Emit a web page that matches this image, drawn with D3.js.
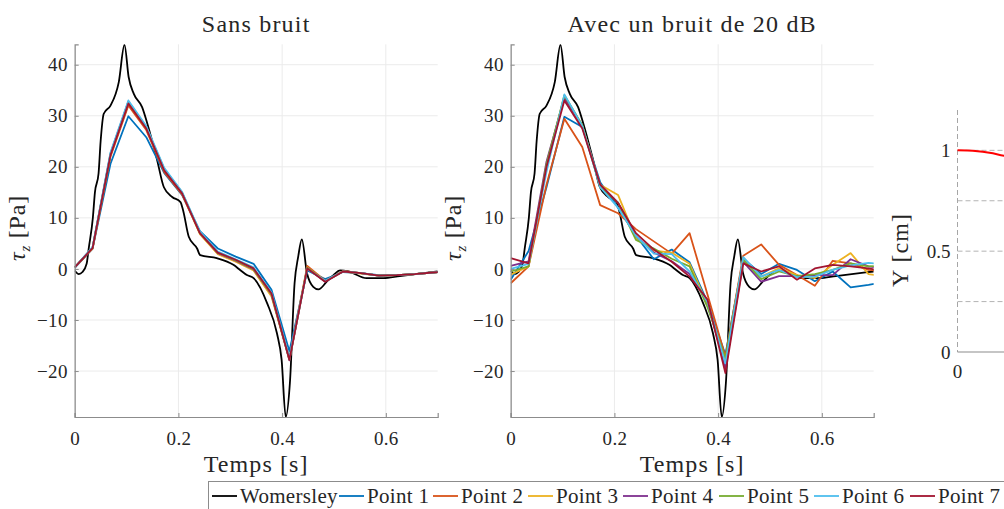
<!DOCTYPE html>
<html>
<head>
<meta charset="utf-8">
<script src="https://cdn.jsdelivr.net/npm/d3@7"></script>
<style>
  html, body { margin: 0; padding: 0; background: #fff; }
  svg { display: block; }
  text { font-family: "Liberation Serif", "DejaVu Serif", serif; fill: #262626; }
</style>
</head>
<body>
<svg id="fig" width="1004" height="509"></svg>
<script>
// Sample times of the estimated points (s)
const sampleTimes = [0, 0.0345, 0.069, 0.1035, 0.138, 0.1725, 0.207, 0.2415, 0.276, 0.3105, 0.345,
  0.3795, 0.414, 0.4485, 0.483, 0.5175, 0.552, 0.5865, 0.621, 0.6555, 0.69, 0.7245];

// Womersley reference wall shear stress
const womT = [0, 0.008, 0.015, 0.023, 0.027, 0.035, 0.039, 0.046, 0.05, 0.056, 0.069, 0.085, 0.096,
  0.104, 0.114, 0.13, 0.14, 0.159, 0.172, 0.188, 0.204, 0.209, 0.22, 0.236, 0.242, 0.274, 0.306,
  0.319, 0.332, 0.345, 0.371, 0.39, 0.399, 0.407, 0.415, 0.424, 0.431, 0.438, 0.448, 0.46, 0.47,
  0.486, 0.499, 0.512, 0.528, 0.563, 0.595, 0.627, 0.7];
const womV = [-0.3, -1.0, -0.6, 1.0, 4.0, 10.0, 15.0, 18.7, 25.0, 30.4, 32.0, 36.6, 43.9,
  37.6, 34.3, 31.7, 28.5, 21.3, 16.0, 14.1, 13.1, 11.5, 6.3, 4.0, 2.7, 2.1, 0.8,
  -0.2, -1.2, -1.8, -6.7, -12.6, -17.8, -29.0, -22.3, -2.8, 2.4, 5.8, -0.85, -3.5, -4.0,
  -2.5, -1.2, -0.3, -0.5, -1.8, -1.8, -1.4, -0.5];

// Estimates without noise
const clean1 = [0.2, 4.0, 20.6, 29.9, 25.8, 18.8, 14.5, 7.4, 4.0, 2.4, 1.0, -4.1, -16.1, -0.3, -2.0, -0.6, -0.8, -1.2, -1.2, -1.0, -0.7, -0.4];
const clean2 = [0.3, 4.0, 22.0, 32.0, 27.2, 19.0, 14.6, 6.9, 3.0, 1.5, -0.2, -5.2, -17.5, 0.6, -2.3, -0.4, -0.8, -1.3, -1.2, -1.0, -0.7, -0.4];
const clean3 = [0.3, 4.1, 22.4, 32.6, 27.6, 19.4, 14.8, 6.8, 2.9, 1.4, -0.3, -5.4, -17.8, 0.3, -2.4, -0.5, -0.9, -1.3, -1.2, -1.0, -0.7, -0.4];
const clean4 = [0.3, 4.2, 22.6, 32.8, 27.7, 19.5, 14.9, 7.0, 3.1, 1.6, -0.1, -5.0, -17.9, 0.2, -2.5, -0.5, -0.8, -1.3, -1.2, -1.0, -0.7, -0.4];
const clean5 = [0.3, 4.2, 22.5, 32.7, 27.8, 19.6, 15.0, 7.1, 3.2, 1.7, 0.0, -4.9, -17.7, 0.2, -2.4, -0.5, -0.8, -1.3, -1.2, -1.0, -0.7, -0.4];
const clean6 = [0.3, 4.3, 22.8, 33.0, 28.0, 19.8, 15.1, 7.3, 3.4, 1.9, 0.3, -4.6, -17.4, 0.0, -2.3, -0.5, -0.8, -1.3, -1.2, -1.0, -0.7, -0.4];
const clean7 = [0.3, 4.1, 22.3, 32.4, 27.5, 19.3, 14.8, 7.0, 3.2, 1.8, 0.1, -4.8, -17.8, 0.1, -2.5, -0.5, -0.8, -1.3, -1.2, -1.0, -0.7, -0.4];

// Estimates with 20 dB noise
const noisy1 = [-2.1, 3.5, 16.0, 29.8, 27.8, 17.0, 12.0, 6.5, 1.9, 3.8, 1.3, -6.5, -16.8, 2.0, -1.0, 1.0, -0.2, -2.4, -0.5, -3.6, -3.1, -2.5];
const noisy2 = [-2.8, 0.5, 16.5, 29.4, 23.9, 12.5, 10.9, 7.8, 5.4, 3.0, 7.0, -5.0, -17.2, 2.6, 4.8, 0.8, -1.2, -3.3, 1.6, 1.1, -0.2, -0.5];
const noisy3 = [-1.1, 0.5, 20.0, 34.0, 28.0, 16.5, 14.5, 6.0, 3.6, 3.2, 1.0, -7.0, -18.0, 2.1, -1.5, 0.1, -1.2, -1.8, 0.8, 3.1, -1.0, -1.5];
const noisy4 = [0.6, 1.5, 21.0, 33.5, 28.0, 16.5, 13.0, 6.5, 3.2, 1.5, -1.0, -6.5, -19.5, 1.4, -2.5, -1.4, -1.4, -1.2, -1.2, 1.9, 0.5, 0.0];
const noisy5 = [-0.5, 0.5, 20.5, 34.0, 28.2, 16.0, 13.0, 5.7, 4.0, 2.0, 0.5, -7.5, -17.5, 1.8, -2.0, -0.5, -1.4, -1.0, -0.2, 1.1, 0.5, 0.7];
const noisy6 = [0.0, 1.0, 19.0, 34.2, 28.0, 16.0, 12.0, 6.5, 3.0, 2.9, -0.5, -6.5, -18.5, 2.3, -1.5, -0.2, -1.6, -1.5, -0.2, 0.7, 1.2, 0.8];
const noisy7 = [2.1, 1.1, 20.0, 33.0, 27.5, 16.5, 12.9, 7.0, 3.8, 1.4, -1.5, -6.0, -20.4, 1.1, -0.5, 0.5, -2.1, 0.1, 0.8, 0.5, 0.1, -0.5];

const seriesNames = ["Womersley", "Point 1", "Point 2", "Point 3", "Point 4", "Point 5", "Point 6", "Point 7"];
const seriesColors = ["#000000", "#0072BD", "#D95319", "#EDB120", "#7E2F8E", "#77AC30", "#4DBEEE", "#A2142F"];

const xTicks = [0, 0.2, 0.4, 0.6];
const yTicks = [-20, -10, 0, 10, 20, 30, 40];

// Vessel wall section (cm)
const wallX = [0, 0.05, 0.1, 0.15, 0.2, 0.25, 0.3, 0.35];
const wallY = [1, 0.9987, 0.995, 0.9887, 0.9798, 0.9682, 0.9539, 0.9367];
const sectionYTicks = [0, 0.5, 1];
const sectionGrid = [0.25, 0.5, 0.75, 1];

const svg = d3.select("#fig");
const axisGrey = "#8c8c8c";
const gridGrey = "#ebebeb";

const yScale = d3.scaleLinear().domain([-29, 44]).range([417, 44.3]);

function panel(x0, title, estimates, clipId) {
  const xScale = d3.scaleLinear().domain([0, 0.7]).range([x0, x0 + 363]);
  const g = svg.append("g");

  g.append("clipPath").attr("id", clipId).append("rect")
    .attr("x", x0).attr("y", 44.3).attr("width", 363).attr("height", 417 - 44.3);

  // grid
  g.selectAll(".gx").data(xTicks).join("line")
    .attr("x1", d => xScale(d)).attr("x2", d => xScale(d))
    .attr("y1", 44.3).attr("y2", 417).attr("stroke", gridGrey).attr("stroke-width", 1);
  g.selectAll(".gy").data(yTicks).join("line")
    .attr("x1", x0).attr("x2", x0 + 363)
    .attr("y1", d => yScale(d)).attr("y2", d => yScale(d)).attr("stroke", gridGrey).attr("stroke-width", 1);

  // curves
  const plot = g.append("g").attr("clip-path", `url(#${clipId})`);
  const womLine = d3.line().x((d, i) => xScale(womT[i])).y(d => yScale(d)).curve(d3.curveMonotoneX);
  plot.append("path").attr("d", womLine(womV)).attr("fill", "none")
    .attr("stroke", seriesColors[0]).attr("stroke-width", 1.8).attr("stroke-linejoin", "round");
  const ptLine = d3.line().x((d, i) => xScale(sampleTimes[i])).y(d => yScale(d));
  estimates.forEach((vals, k) => {
    plot.append("path").attr("d", ptLine(vals)).attr("fill", "none")
      .attr("stroke", seriesColors[k + 1]).attr("stroke-width", 1.8).attr("stroke-linejoin", "round");
  });

  // axes
  const xAxis = d3.axisBottom(xScale).tickValues(xTicks).tickSize(-4).tickPadding(10)
    .tickFormat(d => d === 0 ? "0" : d3.format(".1f")(d));
  const yAxis = d3.axisLeft(yScale).tickValues(yTicks).tickSize(-4).tickPadding(7)
    .tickFormat(d3.format("d"));
  const ax = g.append("g").attr("transform", "translate(0,417)").call(xAxis);
  const ay = g.append("g").attr("transform", `translate(${x0},0)`).call(yAxis);
  [ax, ay].forEach(a => {
    a.select(".domain").attr("stroke", axisGrey).attr("stroke-width", 1.2);
    a.selectAll(".tick line").attr("stroke", axisGrey);
    a.selectAll(".tick text").attr("font-size", 19).style("fill", "#262626")
      .style("font-family", '"Liberation Serif", serif').style("letter-spacing", "0.3px");
  });
  ax.selectAll(".tick text").attr("dy", "0.95em");

  // title and labels
  g.append("text").attr("x", x0 + 181.5).attr("y", 32).attr("text-anchor", "middle")
    .attr("font-size", 24).style("letter-spacing", "1.2px").text(title);
  g.append("text").attr("x", x0 + 181.5).attr("y", 472).attr("text-anchor", "middle")
    .attr("font-size", 24).style("letter-spacing", "1.1px").text("Temps [s]");
  const yl = g.append("text").attr("transform", `translate(${x0 - 50},228) rotate(-90)`)
    .attr("text-anchor", "middle").attr("font-size", 24).style("letter-spacing", "0.8px");
  yl.append("tspan").attr("font-style", "italic").text("τ");
  yl.append("tspan").attr("font-style", "italic").attr("font-size", 15).attr("dy", 5).text("z");
  yl.append("tspan").attr("dy", -5).text(" [Pa]");
}

panel(74.7, "Sans bruit", [clean1, clean2, clean3, clean4, clean5, clean6, clean7], "clipA");
panel(510.7, "Avec un bruit de 20 dB", [noisy1, noisy2, noisy3, noisy4, noisy5, noisy6, noisy7], "clipB");

// Vessel section panel
(function () {
  const x0 = 957.5;
  const sy = d3.scaleLinear().domain([0, 1.2]).range([352, 110]);
  const sx = d3.scaleLinear().domain([0, 1]).range([x0, x0 + 201.7]);
  const g = svg.append("g");
  g.selectAll(".sg").data(sectionGrid).join("line")
    .attr("x1", x0).attr("x2", 1004).attr("y1", d => sy(d)).attr("y2", d => sy(d))
    .attr("stroke", "#b3b3b3").attr("stroke-width", 1).attr("stroke-dasharray", "5,3");
  g.append("line").attr("x1", x0).attr("x2", x0).attr("y1", 110).attr("y2", 352)
    .attr("stroke", "#a6a6a6").attr("stroke-width", 1).attr("stroke-dasharray", "5,3");
  g.append("line").attr("x1", x0).attr("x2", 1004).attr("y1", 352).attr("y2", 352)
    .attr("stroke", axisGrey).attr("stroke-width", 1.2);
  const wl = d3.line().x((d, i) => sx(wallX[i])).y(d => sy(d)).curve(d3.curveMonotoneX);
  g.append("path").attr("d", wl(wallY)).attr("fill", "none").attr("stroke", "#ff0000").attr("stroke-width", 2);
  g.selectAll(".st").data(sectionYTicks).join("text")
    .attr("x", x0 - 7).attr("y", d => sy(d)).attr("dy", "0.35em").attr("text-anchor", "end")
    .attr("font-size", 19).text(d => d3.format("~g")(d));
  g.append("text").attr("x", x0).attr("y", 378).attr("text-anchor", "middle")
    .attr("font-size", 19).text("0");
  g.append("text").attr("transform", `translate(${x0 - 50},250) rotate(-90)`)
    .attr("text-anchor", "middle").attr("font-size", 24).style("letter-spacing", "1px").text("Y [cm]");
})();

// Legend
(function () {
  const lg = svg.append("g");
  lg.append("rect").attr("x", 208.5).attr("y", 481.5).attr("width", 900).attr("height", 40)
    .attr("fill", "#fff").attr("stroke", "#8c8c8c").attr("stroke-width", 1);
  const starts = [211, 338, 432, 527, 622, 718, 813, 909];
  seriesNames.forEach((name, i) => {
    lg.append("line").attr("x1", starts[i] + 1).attr("x2", starts[i] + 26)
      .attr("y1", 496).attr("y2", 496).attr("stroke", seriesColors[i]).attr("stroke-width", 1.8);
    lg.append("text").attr("x", starts[i] + 29).attr("y", 503).attr("font-size", 21)
      .style("letter-spacing", "0.3px").text(name);
  });
})();
</script>
</body>
</html>
